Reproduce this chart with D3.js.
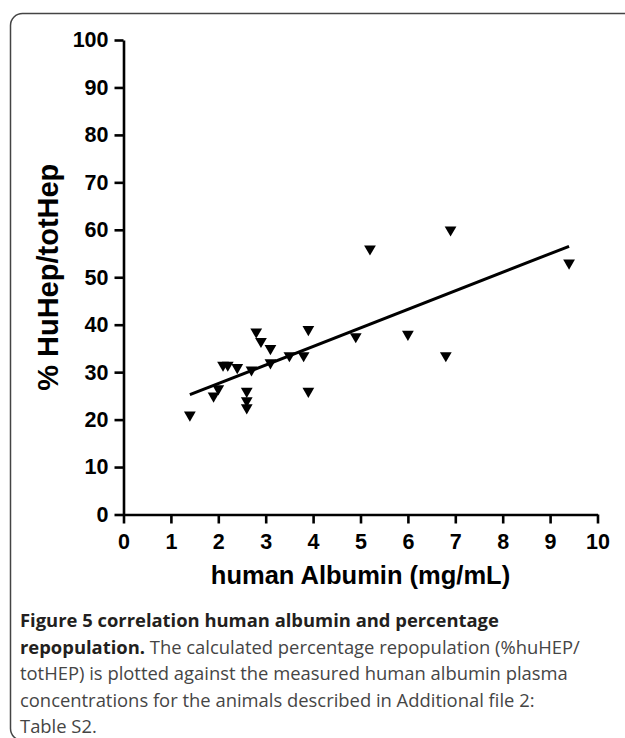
<!DOCTYPE html>
<html>
<head>
<meta charset="utf-8">
<script src="https://cdn.jsdelivr.net/npm/d3@7"></script>
<style>
  body { margin: 0; background: #fff; }
  svg { display: block; }
  .tick text { font-family: "Liberation Sans", Arial, sans-serif; font-weight: bold; font-size: 21.5px; fill: #000; }
  .axis-title { font-family: "Liberation Sans", Arial, sans-serif; font-weight: bold; fill: #000; }
  .caption { font-family: "Open Sans", sans-serif; font-size: 18.4px; fill: #454545; }
  .caption .b { font-weight: bold; fill: #231f20; }
</style>
</head>
<body>
<svg id="chart" width="625" height="738"></svg>
<script>
'use strict';

//albumin (mg/mL) vs % HuHep/totHep
const albumin = [1.4, 1.9, 2.0, 2.1, 2.2, 2.4, 2.6, 2.6, 2.6, 2.7, 2.8, 2.9,
  3.1, 3.1, 3.5, 3.8, 3.9, 3.9, 4.9, 5.2, 6.0, 6.8, 6.9, 9.4];
const repop = [21, 25, 26.5, 31.5, 31.5, 31, 26, 24, 22.5, 30.5, 38.5, 36.5,
  35, 32, 33.5, 33.5, 39, 26, 37.5, 56, 38, 33.5, 60, 53];
const xTicks = [0, 1, 2, 3, 4, 5, 6, 7, 8, 9, 10];
const yTicks = [0, 10, 20, 30, 40, 50, 60, 70, 80, 90, 100];
const captionLines = [
  [['Figure 5 correlation human albumin and percentage', true]],
  [['repopulation.', true], [' The calculated percentage repopulation (%huHEP/', false]],
  [['totHEP) is plotted against the measured human albumin plasma', false]],
  [['concentrations for the animals described in Additional file 2:', false]],
  [['Table S2.', false]]
];

(() => {
  const svg = d3.select('#chart');

  //frame round the figure, runs off the right and bottom
  svg.append('rect')
    .attr('x', 10.5).attr('y', 13.5)
    .attr('width', 660).attr('height', 727)
    .attr('rx', 12).attr('ry', 12)
    .attr('fill', 'none')
    .attr('stroke', '#444')
    .attr('stroke-width', 1.5);

  //plot area
  const pL = 123.5, pR = 597.5, pT = 40, pB = 514.5;
  const x = d3.scaleLinear().domain([0, 10]).range([pL, pR]);
  const y = d3.scaleLinear().domain([0, 100]).range([pB, pT]);

  const xAxis = svg.append('g')
    .attr('transform', `translate(0, ${pB})`)
    .call(d3.axisBottom(x).tickValues(xTicks).tickSize(9).tickSizeOuter(0).tickPadding(10));
  const yAxis = svg.append('g')
    .attr('transform', `translate(${pL}, 0)`)
    .call(d3.axisLeft(y).tickValues(yTicks).tickSize(9).tickSizeOuter(0).tickPadding(6));
  [xAxis, yAxis].forEach((ax) => {
    ax.selectAll('path, line').attr('stroke', '#000').attr('stroke-width', 2.6);
    ax.attr('font-family', null).attr('font-size', null);
  });

  //axis titles
  svg.append('text')
    .attr('class', 'axis-title')
    .attr('x', (pL + pR) / 2)
    .attr('y', 584)
    .attr('text-anchor', 'middle')
    .attr('font-size', 25.5)
    .text('human Albumin (mg/mL)');
  svg.append('text')
    .attr('class', 'axis-title')
    .attr('transform', `translate(58, ${(pT + pB) / 2}) rotate(-90)`)
    .attr('text-anchor', 'middle')
    .attr('font-size', 29)
    .text('% HuHep/totHep');

  //linear regression over the points
  const mx = d3.mean(albumin), my = d3.mean(repop);
  const sxy = d3.sum(albumin, (v, i) => (v - mx) * (repop[i] - my));
  const sxx = d3.sum(albumin, (v) => (v - mx) * (v - mx));
  const slope = sxy / sxx;
  const icpt = my - slope * mx;
  const [x0, x1] = d3.extent(albumin);
  svg.append('line')
    .attr('x1', x(x0)).attr('y1', y(icpt + slope * x0))
    .attr('x2', x(x1)).attr('y2', y(icpt + slope * x1))
    .attr('stroke', '#000')
    .attr('stroke-width', 3);

  //points - downward triangles
  const tri = d3.symbol().type(d3.symbolTriangle).size(60);
  svg.append('g')
    .selectAll('path')
    .data(albumin)
    .join('path')
    .attr('d', tri)
    .attr('transform', (d, i) => `translate(${x(d)}, ${y(repop[i])}) rotate(180)`)
    .attr('fill', '#000');

  //caption
  const cap = svg.append('text')
    .attr('class', 'caption')
    .attr('x', 20)
    .attr('y', 627);
  captionLines.forEach((line, li) => {
    line.forEach(([txt, bold], pi) => {
      const t = cap.append('tspan').text(txt).attr('class', bold ? 'b' : null);
      if (pi === 0) t.attr('x', 20).attr('dy', li === 0 ? 0 : 26.5);
    });
  });
})();
</script>
</body>
</html>
